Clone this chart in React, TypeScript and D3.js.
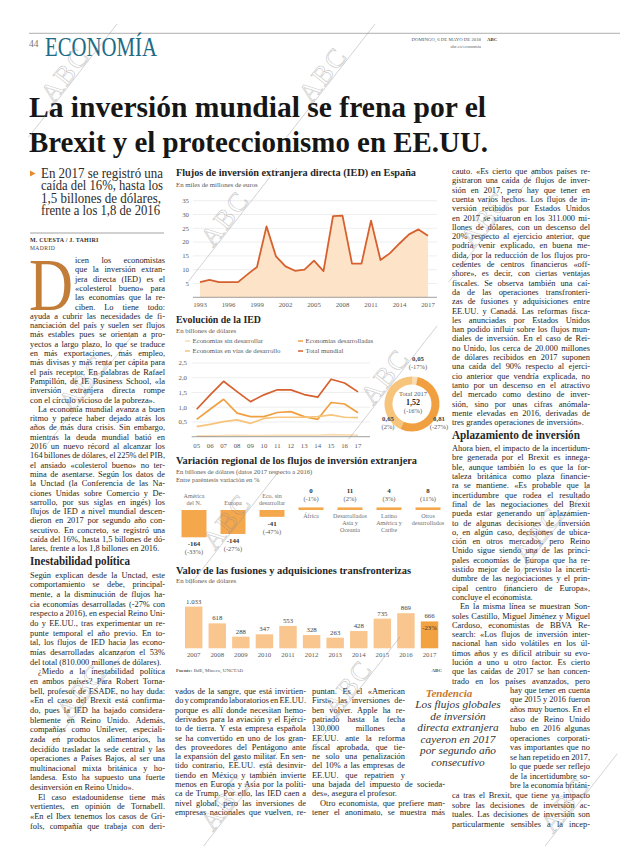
import React from "react";
import * as d3 from "d3";

// ---------- DATA ----------
const iedYears = [1993, 1994, 1995, 1996, 1997, 1998, 1999, 2000, 2001, 2002, 2003, 2004, 2005, 2006, 2007, 2008, 2009, 2010, 2011, 2012, 2013, 2014, 2015, 2016, 2017];
const iedValues = [5.5, 6.3, 5.5, 5.5, 5.5, 8.3, 11.0, 25.7, 14.8, 11.2, 9.6, 10.0, 13.3, 9.5, 29.4, 29.6, 12.2, 12.2, 27.8, 13.5, 16.0, 19.5, 22.8, 24.6, 22.3];
const iedTickYears = [1993, 1996, 1999, 2002, 2005, 2008, 2011, 2014, 2017];
const iedYTicks = [5, 10, 15, 20, 25, 30, 35];

const evoYears = ["05", "06", "07", "08", "09", "10", "11", "12", "13", "14", "15", "16", "17"];
const evoTotal = [0.93, 1.42, 1.88, 1.53, 1.19, 1.42, 1.59, 1.59, 1.43, 1.34, 1.95, 1.82, 1.52];
const evoDesarrolladas = [0.59, 0.93, 1.27, 0.8, 0.68, 0.68, 0.82, 0.85, 0.68, 0.59, 1.16, 1.11, 0.81];
const evoEnVias = [0.34, 0.42, 0.51, 0.57, 0.45, 0.62, 0.66, 0.66, 0.66, 0.68, 0.74, 0.66, 0.65];
const evoSinDesarrollar = [0.03, 0.03, 0.04, 0.05, 0.04, 0.04, 0.05, 0.05, 0.05, 0.05, 0.07, 0.06, 0.05];
const evoYTicks = [0.5, 1, 1.5, 2, 2.5];
const evoSeriesNames = ["Economías sin desarrollar", "Economías desarrolladas", "Economías en vías de desarrollo", "Total mundial"];
const donutValues = [0.05, 0.81, 0.65];
const donutPct = ["(-17%)", "(-27%)", "(2%)"];
const donutTotal = 1.52;
const donutTotalPct = "(-16%)";

const regCategories = [["América", "del N."], ["Europa"], ["Eco. sin", "desarrollar"], ["África"], ["Desarrollados", "Asia y", "Oceanía"], ["Latino", "América y", "Caribe"], ["Otros", "desarrollados"]];
const regValues = [-164, -144, -41, 0, 11, 4, 8];
const regPct = ["(-33%)", "(-27%)", "(-47%)", "(-1%)", "(2%)", "(3%)", "(11%)"];

const fusYears = ["2007", "2008", "2009", "2010", "2011", "2012", "2013", "2014", "2015", "2016", "2017"];
const fusValues = [1033, 618, 288, 347, 553, 328, 263, 428, 735, 869, 666];
const fusLastPct = "-23%";

// ---------- TEXT ----------
const colL1 = ["icen los economistas", "que la inversión extran-", "jera directa (IED) es el", "«colesterol bueno» para", "las economías que la re-", "ciben. Lo tiene todo:"];
const colL2 = [
  "ayuda a cubrir las necesidades de fi-", "nanciación del país y suelen ser flujos", "más estables pues se orientan a pro-", "yectos a largo plazo, lo que se traduce", "en más exportaciones, más empleo,", "más divisas y más renta per cápita para", "el país receptor. En palabras de Rafael", "Pampillón, de IE Business School, «la", "inversión extranjera directa rompe", "con el círculo vicioso de la pobreza».|",
  "  La economía mundial avanza a buen", "ritmo y parece haber dejado atrás los", "años de más dura crisis. Sin embargo,", "mientras la deuda mundial batió en", "2016 un nuevo récord al alcanzar los", "164 billones de dólares, el 225% del PIB,", "el ansiado «colesterol bueno» no ter-", "mina de asentarse. Según los datos de", "la Unctad (la Conferencia de las Na-", "ciones Unidas sobre Comercio y De-", "sarrollo, por sus siglas en ingés) los", "flujos de IED a nivel mundial descen-", "dieron en 2017 por segundo año con-", "secutivo. En concreto, se registró una", "caída del 16%, hasta 1,5 billones de dó-", "lares, frente a los 1,8 billones en 2016.|"];
const colL3 = [
  "Según explican desde la Unctad, este", "comportamiento se debe, principal-", "mente, a la disminución de flujos ha-", "cia economías desarrolladas (-27% con", "respecto a 2016), en especial Reino Uni-", "do y EE.UU., tras experimentar un re-", "punte temporal el año previo. En to-", "tal, los flujos de IED hacia las econo-", "mías desarrolladas alcanzaron el 53%", "del total (810.000 millones de dólares).|",
  "  ¿Miedo a la inestabilidad política", "en ambos países? Para Robert Torna-", "bell, profesor de ESADE, no hay duda:", "«En el caso del Brexit está confirma-", "do, pues la IED ha bajado considera-", "blemente en Reino Unido. Además,", "compañías como Unilever, especiali-", "zada en productos alimentarios, ha", "decidido trasladar la sede central y las", "operaciones a Países Bajos, al ser una", "multinacional mixta británica y ho-", "landesa. Esto ha supuesto una fuerte", "desinversión en Reino Unido».|",
  "  El caso estadounidense tiene más", "vertientes, en opinión de Tornabell.", "«En el Ibex tenemos los casos de Gri-", "fols, compañía que trabaja con deri-"];
const colMA = ["vados de la sangre, que está invirtien-", "do y comprando laboratorios en EE.UU.", "porque es allí donde necesitan hemo-", "derivados para la aviación y el Ejérci-", "to de tierra. Y esta empresa española", "se ha convertido en uno de los gran-", "des proveedores del Pentágono ante", "la expansión del gasto militar. En sen-", "tido contrario, EE.UU. está desinvir-", "tiendo en México y también invierte", "menos en Europa y Asia por la políti-", "ca de Trump. Por ello, las IED caen a", "nivel global, pero las inversiones de", "empresas nacionales que vuelven, re-"];
const colMB1 = ["puntan. Es el «American", "First», las inversiones de-", "ben volver. Apple ha re-", "patriado hasta la fecha", "130.000 millones a", "EE.UU. ante la reforma", "fiscal aprobada, que tie-", "ne solo una penalización", "del 10% a las empresas de", "EE.UU. que repatrien y"];
const colMB2 = ["una bajada del impuesto de socieda-", "des», asegura el profesor.|", "  Otro economista, que prefiere man-", "tener el anonimato, se muestra más"];
const colR1 = ["cauto. «Es cierto que ambos países re-", "gistraron una caída de flujos de inver-", "sión en 2017, pero hay que tener en", "cuenta varios hechos. Los flujos de in-", "versión recibidos por Estados Unidos", "en 2017 se situaron en los 311.000 mi-", "llones de dólares, con un descenso del", "20% respecto al ejercicio anterior, que", "podría venir explicado, en buena me-", "dida, por la reducción de los flujos pro-", "cedentes de centros financieros «off-", "shore», es decir, con ciertas ventajas", "fiscales. Se observa también una caí-", "da de las operaciones transfronteri-", "zas de fusiones y adquisiciones entre", "EE.UU. y Canadá. Las reformas fisca-", "les anunciadas por Estados Unidos", "han podido influir sobre los flujos mun-", "diales de inversión. En el caso de Rei-", "no Unido, los cerca de 20.000 millones", "de dólares recibidos en 2017 suponen", "una caída del 90% respecto al ejerci-", "cio anterior que vendría explicada, no", "tanto por un descenso en el atractivo", "del mercado como destino de inver-", "sión, sino por unas cifras anómala-", "mente elevadas en 2016, derivadas de", "tres grandes operaciones de inversión».|"];
const colR2 = ["Ahora bien, el impacto de la incertidum-", "bre generada por el Brexit es innega-", "ble, aunque también lo es que la for-", "taleza británica como plaza financie-", "ra se mantiene. «Es probable que la", "incertidumbre que rodea el resultado", "final de las negociaciones del Brexit", "pueda estar generando un aplazamien-", "to de algunas decisiones de inversión", "o, en algún caso, decisiones de ubica-", "ción en otros mercados, pero Reino", "Unido sigue siendo una de las princi-", "pales economías de Europa que ha re-", "sistido mejor de lo previsto la incerti-", "dumbre de las negociaciones y el prin-", "cipal centro financiero de Europa»,", "concluye el economista.|", "  En la misma línea se muestran Son-", "soles Castillo, Miguel Jiménez y Miguel", "Cardoso, economistas de BBVA Re-", "search: «Los flujos de inversión inter-", "nacional han sido volátiles en los úl-", "timos años y es difícil atribuir su evo-", "lución a uno u otro factor. Es cierto", "que las caídas de 2017 se han concen-", "trado en los países avanzados, pero"];
const colR3 = ["hay que tener en cuenta", "que 2015 y 2016 fueron", "años muy buenos. En el", "caso de Reino Unido", "hubo en 2016 algunas", "operaciones corporati-", "vas importantes que no", "se han repetido en 2017,", "lo que puede ser reflejo", "de la incertidumbre so-", "bre la economía británi-"];
const colR4 = ["ca tras el Brexit, que tiene ya impacto", "sobre las decisiones de inversión ac-", "tuales. Las decisiones de inversión son", "particularmente sensibles a la incep-"];
const callout = ["Los flujos globales", "de inversión", "directa extranjera", "cayeron en 2017", "por segundo año", "consecutivo"];
const subhead = ["En 2017 se registró una", "caída del 16%, hasta los", "1,5 billones de dólares,", "frente a los 1,8 de 2016"];

// ---------- STYLE ----------
const SERIF = "'Liberation Serif', 'DejaVu Serif', serif";
const INK = "#262626";
const GRAY = "#5a5a5a";
const LH = 9.3;
const BODY = 8.4;

const es = d3.formatLocale({ decimal: ",", thousands: ".", grouping: [3], currency: ["", " €"] });
const fmt1 = es.format(".1f");
const fmt2 = es.format(".2f");
const fmtInt = es.format(",d");

function justify(el: SVGTextElement | null, width: number, text: string) {
  if (!el) return;
  el.removeAttribute("word-spacing");
  const len = el.getComputedTextLength();
  const n = (text.match(/ /g) || []).length;
  if (n > 0) el.setAttribute("word-spacing", String((width - len) / n));
}

function Lines({ x, y, w, lines, lh = LH }: { x: number; y: number; w: number; lines: string[]; lh?: number }) {
  return (
    <g fontFamily={SERIF} fontSize={BODY} fill={INK}>
      {lines.map((s, i) => {
        let t = s;
        let indent = 0;
        let just = true;
        if (t.endsWith("|")) { t = t.slice(0, -1); just = false; }
        if (t.startsWith("  ")) { t = t.slice(2); indent = 8; }
        const ww = w - indent;
        return (
          <text key={i} x={x + indent} y={y + i * lh} ref={just ? (el) => justify(el, ww, t) : undefined}>{t}</text>
        );
      })}
    </g>
  );
}

function Watermark({ x, y }: { x: number; y: number }) {
  return (
    <g transform={`translate(${x},${y}) rotate(-52)`} opacity={0.5}>
      <line x1={-72} y1={1} x2={72} y2={1} stroke="#8f8f8f" strokeWidth={0.7} />
      <text x={0} y={0} textAnchor="middle" fontFamily={SERIF} fontSize={27} letterSpacing={2} fill="none" stroke="#8f8f8f" strokeWidth={0.6}>ABC</text>
    </g>
  );
}

function ChartIED() {
  const x = d3.scaleLinear().domain([1993, 2017]).range([200, 428]);
  const y = d3.scaleLinear().domain([0, 35]).range([297.3, 200.7]);
  const area = d3.area<number>().x((_, i) => x(iedYears[i])).y0(y(0)).y1((d) => y(d));
  const line = d3.line<number>().x((_, i) => x(iedYears[i])).y((d) => y(d));
  return (
    <g fontFamily={SERIF}>
      <text x={176} y={176} fontSize={10.5} fontWeight="bold" fill={INK} textLength={240} lengthAdjust="spacingAndGlyphs">Flujos de inversión extranjera directa (IED) en España</text>
      <text x={176} y={187.3} fontSize={6.8} fill={GRAY}>En miles de millones de euros</text>
      {iedYTicks.map((t) => (
        <g key={t}>
          <line x1={193} x2={437} y1={y(t)} y2={y(t)} stroke="#e3e3e3" strokeWidth={0.6} />
          <text x={189} y={y(t) + 2.3} fontSize={6.8} textAnchor="end" fill={GRAY}>{t}</text>
        </g>
      ))}
      <path d={area(iedValues) || ""} fill="#fde4c8" />
      <path d={line(iedValues) || ""} fill="none" stroke="#d6612f" strokeWidth={1.8} strokeLinejoin="round" />
      <line x1={193} x2={437} y1={y(0)} y2={y(0)} stroke="#777" strokeWidth={0.7} />
      {iedTickYears.map((t) => (
        <text key={t} x={x(t)} y={306.5} fontSize={6.8} textAnchor="middle" fill={GRAY}>{t}</text>
      ))}
    </g>
  );
}

function ChartEvo() {
  const x = d3.scalePoint<string>().domain(evoYears).range([196.7, 358]);
  const y = d3.scaleLinear().domain([0, 2.5]).range([436.7, 363]);
  const line = d3.line<number>().x((_, i) => x(evoYears[i]) as number).y((d) => y(d));
  const colors = ["#f9dcb2", "#f0a040", "#f7c47c", "#d6612f"];
  const series = [evoSinDesarrollar, evoDesarrolladas, evoEnVias, evoTotal];
  const legendPos = [[185, 343.3], [298, 343.3], [185, 353.3], [298, 353.3]];
  const cx = 412, cy = 404;
  const pie = d3.pie<number>().sort(null).value((d) => d);
  const arcs = pie(donutValues);
  const arc = d3.arc<d3.PieArcDatum<number>>().innerRadius(19.5).outerRadius(27.5);
  const donutColors = [colors[0], colors[1], colors[2]];
  return (
    <g fontFamily={SERIF}>
      <text x={176} y={322.7} fontSize={10.5} fontWeight="bold" fill={INK} textLength={85} lengthAdjust="spacingAndGlyphs">Evolución de la IED</text>
      <text x={176} y={333.3} fontSize={6.8} fill={GRAY}>En billones de dólares</text>
      {evoSeriesNames.map((n, i) => (
        <g key={n}>
          <line x1={legendPos[i][0]} x2={legendPos[i][0] + 5} y1={legendPos[i][1] - 2.3} y2={legendPos[i][1] - 2.3} stroke={colors[i]} strokeWidth={1.5} />
          <text x={legendPos[i][0] + 7.5} y={legendPos[i][1]} fontSize={6.8} fill={GRAY}>{n}</text>
        </g>
      ))}
      {evoYTicks.map((t) => (
        <g key={t}>
          <line x1={191.7} x2={370} y1={y(t)} y2={y(t)} stroke="#e3e3e3" strokeWidth={0.6} />
          <text x={187} y={y(t) + 2.3} fontSize={6.8} textAnchor="end" fill={GRAY}>{fmt1(t)}</text>
        </g>
      ))}
      {series.map((s, i) => (
        <path key={i} d={line(s) || ""} fill="none" stroke={colors[i]} strokeWidth={1.7} strokeLinejoin="round" />
      ))}
      <line x1={191.7} x2={370} y1={y(0)} y2={y(0)} stroke="#777" strokeWidth={0.7} />
      {evoYears.map((t) => (
        <text key={t} x={x(t) as number} y={448.3} fontSize={6.8} textAnchor="middle" fill={GRAY}>{t}</text>
      ))}
      <g transform={`translate(${cx},${cy})`}>
        {arcs.map((a, i) => (
          <path key={i} d={arc(a) || ""} fill={donutColors[i]} />
        ))}
      </g>
      <text x={cx + 6} y={361} fontSize={6.8} fontWeight="bold" textAnchor="middle" fill="#444">{fmt2(donutValues[0])}</text>
      <text x={cx + 6} y={369} fontSize={6.5} textAnchor="middle" fill={GRAY}>{donutPct[0]}</text>
      <text x={cx + 1} y={396} fontSize={6.5} textAnchor="middle" fill={GRAY}>Total 2017</text>
      <text x={cx + 1} y={405} fontSize={8} fontWeight="bold" textAnchor="middle" fill={INK}>{fmt2(donutTotal)}</text>
      <text x={cx + 1} y={413} fontSize={6.5} textAnchor="middle" fill={GRAY}>{donutTotalPct}</text>
      <text x={cx - 24} y={421} fontSize={6.8} fontWeight="bold" textAnchor="middle" fill="#444">{fmt2(donutValues[2])}</text>
      <text x={cx - 24} y={429} fontSize={6.5} textAnchor="middle" fill={GRAY}>{donutPct[2]}</text>
      <text x={cx + 27} y={421} fontSize={6.8} fontWeight="bold" textAnchor="middle" fill="#444">{fmt2(donutValues[1])}</text>
      <text x={cx + 27} y={429} fontSize={6.5} textAnchor="middle" fill={GRAY}>{donutPct[1]}</text>
    </g>
  );
}

function ChartRegional() {
  const x = d3.scaleBand<number>().domain(regValues.map((_, i) => i)).range([174.5, 447.5]).paddingInner(0.36).paddingOuter(0.18);
  const y = d3.scaleLinear().domain([0, -164]).range([510, 537.3]);
  const bw = x.bandwidth();
  return (
    <g fontFamily={SERIF}>
      <text x={176} y={464} fontSize={10.5} fontWeight="bold" fill={INK} textLength={241} lengthAdjust="spacingAndGlyphs">Variación regional de los flujos de inversión extranjera</text>
      <text x={176} y={474.3} fontSize={6.6} fill={GRAY}>En billones de dólares (datos 2017 respecto a 2016)</text>
      <text x={176} y={481.8} fontSize={6.6} fill={GRAY}>Entre paréntesis variación en %</text>
      {regValues.map((v, i) => {
        const x0 = x(i) as number;
        const cxm = x0 + bw / 2;
        const h = Math.max(Math.abs(y(v) - y(0)), 2.6);
        const neg = v < 0;
        const yTop = neg ? y(0) : y(0) - h;
        const yBot = neg ? y(0) + h : y(0);
        const cat = regCategories[i];
        return (
          <g key={i}>
            <rect x={x0} y={yTop} width={bw} height={h} fill="#f5a74c" />
            {neg
              ? cat.map((c, k) => (
                  <text key={k} x={cxm} y={505 - (cat.length - 1 - k) * 6.6} fontSize={6.1} textAnchor="middle" fill="#707070">{c}</text>
                ))
              : cat.map((c, k) => (
                  <text key={k} x={cxm} y={518.3 + k * 6.6} fontSize={6.1} textAnchor="middle" fill="#707070">{c}</text>
                ))}
            {neg ? (
              <g>
                <text x={cxm} y={yBot + 9} fontSize={6.9} fontWeight="bold" textAnchor="middle" fill="#333">{v}</text>
                <text x={cxm} y={yBot + 17} fontSize={6.5} textAnchor="middle" fill={GRAY}>{regPct[i]}</text>
              </g>
            ) : (
              <g>
                <text x={cxm} y={yTop - 14.5} fontSize={6.9} fontWeight="bold" textAnchor="middle" fill="#333">{v}</text>
                <text x={cxm} y={yTop - 6.5} fontSize={6.5} textAnchor="middle" fill={GRAY}>{regPct[i]}</text>
              </g>
            )}
          </g>
        );
      })}
    </g>
  );
}

function ChartFusiones() {
  const x = d3.scaleBand<string>().domain(fusYears).range([181.9, 441.3]).paddingInner(0.26).paddingOuter(0.13);
  const y = d3.scaleLinear().domain([0, 1033]).range([648.3, 606.6]);
  const bw = x.bandwidth();
  const last = fusYears.length - 1;
  return (
    <g fontFamily={SERIF}>
      <text x={176} y={574.3} fontSize={10.5} fontWeight="bold" fill={INK} textLength={235} lengthAdjust="spacingAndGlyphs">Valor de las fusiones y adquisiciones transfronterizas</text>
      <text x={176} y={583.3} fontSize={6.8} fill={GRAY}>En billones de dólares</text>
      {fusValues.map((v, i) => {
        const x0 = x(fusYears[i]) as number;
        const cxm = x0 + bw / 2;
        return (
          <g key={i}>
            <rect x={x0} y={y(v)} width={bw} height={y(0) - y(v)} fill={i === last ? "#f2a241" : "#f9c690"} />
            <text x={cxm} y={y(v) - 3} fontSize={6.8} textAnchor="middle" fill="#444">{fmtInt(v)}</text>
            <text x={cxm} y={657} fontSize={6.8} textAnchor="middle" fill={GRAY}>{fusYears[i]}</text>
            {i === last ? <text x={cxm} y={y(v) + 9} fontSize={6.6} textAnchor="middle" fill="#333">{fusLastPct}</text> : null}
          </g>
        );
      })}
      <text x={176} y={672.3} fontSize={5} fill="#555"><tspan fontWeight="bold">Fuente:</tspan> BdE, Mineco, UNCTAD</text>
      <text x={442} y={672.3} fontSize={5} fontWeight="bold" textAnchor="end" fill="#555">ABC</text>
    </g>
  );
}

export default function App() {
  const l1y = 263;
  const l2y = l1y + colL1.length * LH;
  const hL = l2y + (colL2.length - 1) * LH + 14;
  const l3y = hL + 12.5;
  const l3lh = 9.65;
  const r1y = 174;
  const hR = r1y + (colR1.length - 1) * LH + 13.5;
  const r2y = hR + 12.5;
  const r3y = r2y + colR2.length * LH;
  const r34lh = 9.55;
  const r4y = r3y + colR3.length * r34lh;
  const m1y = 694;
  return (
    <svg width={620} height={846} viewBox="0 0 620 846" style={{ position: "absolute", left: 0, top: 0, background: "#fff", display: "block" }}>
      <rect x={0} y={0} width={620} height={846} fill="#fff" />
      {/* header */}
      <line x1={29} x2={620} y1={33.3} y2={33.3} stroke="#9a9a9a" strokeWidth={0.8} />
      <text x={29} y={47} fontFamily={SERIF} fontSize={9.5} fill="#777">44</text>
      <text x={45} y={56} fontFamily={SERIF} fontSize={27} fill="#1c6c88" textLength={112} lengthAdjust="spacingAndGlyphs">ECONOMÍA</text>
      <text x={481} y={41} fontFamily={SERIF} fontSize={4.8} textAnchor="end" fill="#555">DOMINGO, 6 DE MAYO DE 2018</text>
      <text x={487} y={41} fontFamily={SERIF} fontSize={4.8} fontWeight="bold" fill="#333">ABC</text>
      <text x={481} y={47.5} fontFamily={SERIF} fontSize={4.6} textAnchor="end" fill="#666">abc.es/economia</text>
      <text x={29} y={116.7} fontFamily={SERIF} fontSize={30} fontWeight="bold" fill="#161616" textLength={457} lengthAdjust="spacingAndGlyphs">La inversión mundial se frena por el</text>
      <text x={29} y={151.7} fontFamily={SERIF} fontSize={30} fontWeight="bold" fill="#161616" textLength={459} lengthAdjust="spacingAndGlyphs">Brexit y el proteccionismo en EE.UU.</text>

      {/* subhead */}
      <path d="M30,170.5 L35.5,173.5 L30,176.5 Z" fill="#e58b2e" />
      {subhead.map((s, i) => (
        <text key={i} x={41} y={178 + i * 12.4} fontFamily={SERIF} fontSize={14} fill="#2c2c2c" textLength={[122, 122, 120, 119][i]} lengthAdjust="spacingAndGlyphs">{s}</text>
      ))}
      <line x1={30} x2={164} y1={233} y2={233} stroke="#8a8a8a" strokeWidth={0.8} />
      <text x={30} y={241.5} fontFamily={SERIF} fontSize={6} fontWeight="bold" fill="#333" letterSpacing={0.2}>M. CUESTA / J. TAHIRI</text>
      <text x={30} y={249.5} fontFamily={SERIF} fontSize={5.6} fill="#444" letterSpacing={0.4}>MADRID</text>
      <text x={29} y={l1y + 5 * LH} fontFamily={SERIF} fontSize={75} fill="#c27d38" textLength={44} lengthAdjust="spacingAndGlyphs">D</text>

      {/* left column */}
      <Lines x={75} y={l1y} w={90} lines={colL1} />
      <Lines x={30} y={l2y} w={135} lines={colL2} />
      <text x={30} y={hL} fontFamily={SERIF} fontSize={11.5} fontWeight="bold" fill={INK} textLength={100} lengthAdjust="spacingAndGlyphs">Inestabilidad política</text>
      <Lines x={30} y={l3y} w={135} lines={colL3} lh={l3lh} />

      {/* charts */}
      <ChartIED />
      <ChartEvo />
      <ChartRegional />
      <ChartFusiones />

      {/* middle columns */}
      <Lines x={175} y={m1y} w={131} lines={colMA} />
      <Lines x={312} y={m1y} w={93} lines={colMB1} />
      <Lines x={312} y={m1y + colMB1.length * LH} w={133} lines={colMB2} />

      {/* callout */}
      <text x={449} y={697} fontFamily={SERIF} fontSize={11} fontWeight="bold" fontStyle="italic" textAnchor="middle" fill="#c8772c">Tendencia</text>
      {callout.map((s, i) => (
        <text key={i} x={458} y={708 + i * 11.6} fontFamily={SERIF} fontSize={11.3} fontStyle="italic" textAnchor="middle" fill="#333">{s}</text>
      ))}

      {/* right column */}
      <Lines x={452} y={r1y} w={138} lines={colR1} />
      <text x={452} y={hR} fontFamily={SERIF} fontSize={11.5} fontWeight="bold" fill={INK} textLength={128} lengthAdjust="spacingAndGlyphs">Aplazamiento de inversión</text>
      <Lines x={452} y={r2y} w={138} lines={colR2} />
      <Lines x={510} y={r3y} w={80} lines={colR3} lh={r34lh} />
      <Lines x={452} y={r4y} w={138} lines={colR4} lh={r34lh} />

      {/* watermarks */}
      {[[72, 80], [330, 80], [232, 224], [492, 225], [392, 382], [234, 527], [90, 388], [88, 697], [545, 540], [355, 693], [232, 808], [572, 810]].map(([wx, wy], i) => (
        <Watermark key={i} x={wx} y={wy} />
      ))}
    </svg>
  );
}
